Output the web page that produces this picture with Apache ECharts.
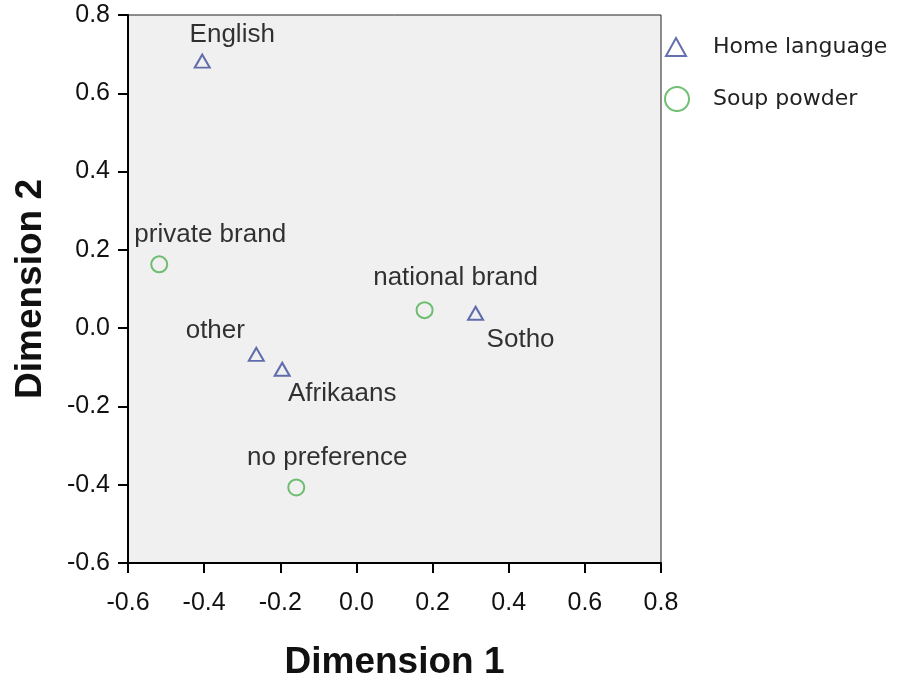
<!DOCTYPE html>
<html><head><meta charset="utf-8">
<script src="https://cdn.jsdelivr.net/npm/echarts@6/dist/echarts.min.js"></script>
<style>html,body{margin:0;padding:0;background:#fff}#c{width:898px;height:681px}</style>
</head><body><div id="c"></div>
<script>
var langNames = ['English', 'other', 'Afrikaans', 'Sotho'];
var langX = [-0.405, -0.263, -0.195, 0.313];
var langY = [0.682, -0.067, -0.105, 0.038];
var soupNames = ['private brand', 'national brand', 'no preference'];
var soupX = [-0.518, 0.179, -0.158];
var soupY = [0.163, 0.046, -0.407];
var xTicks = [-0.6, -0.4, -0.2, 0.0, 0.2, 0.4, 0.6, 0.8];
var yTicks = [-0.6, -0.4, -0.2, 0.0, 0.2, 0.4, 0.6, 0.8];

var labelOffsets = {
  'English': [30, -26], 'other': [-41, -24], 'Afrikaans': [60, 25], 'Sotho': [45, 27],
  'private brand': [51, -30], 'national brand': [31, -32], 'no preference': [31, -30]
};
var FONT = 'Liberation Sans, Arial, sans-serif';
function pts(names, xs, ys) {
  return names.map(function (n, i) {
    return { name: n, value: [xs[i], ys[i]],
      label: { show: true, position: 'inside', offset: labelOffsets[n], formatter: n,
        color: '#000', fontSize: 26, fontFamily: FONT } };
  });
}
function fmt(v) { return (Math.abs(v) < 1e-9 ? 0 : v).toFixed(1); }
var chart = echarts.init(document.getElementById('c'), null, { renderer: 'canvas' });
chart.setOption({
  animation: false,
  backgroundColor: '#fff',
  grid: { left: 128, right: 237, top: 15, bottom: 118, outerBoundsMode: 'none', containLabel: false,
    show: true, backgroundColor: '#f0f0f0', borderColor: '#222', borderWidth: 1 },
  xAxis: {
    type: 'value', min: xTicks[0], max: xTicks[xTicks.length - 1], interval: 0.2,
    name: 'Dimension 1', nameLocation: 'middle', nameGap: 81,
    nameTextStyle: { fontSize: 37, fontWeight: 'bold', color: '#111', fontFamily: FONT },
    axisLine: { show: true, onZero: false, lineStyle: { color: '#000', width: 2 } },
    axisTick: { show: true, length: 10, lineStyle: { color: '#000', width: 2 } },
    axisLabel: { fontSize: 25, color: '#111', fontFamily: FONT, margin: 28, formatter: fmt },
    splitLine: { show: false }
  },
  yAxis: {
    type: 'value', min: yTicks[0], max: yTicks[yTicks.length - 1], interval: 0.2,
    name: 'Dimension 2', nameLocation: 'middle', nameGap: 79, nameRotate: 90,
    nameTextStyle: { fontSize: 37, fontWeight: 'bold', color: '#111', fontFamily: FONT },
    axisLine: { show: true, onZero: false, lineStyle: { color: '#000', width: 2 } },
    axisTick: { show: true, length: 10, lineStyle: { color: '#000', width: 2 } },
    axisLabel: { fontSize: 25, color: '#111', fontFamily: FONT, margin: 18, formatter: fmt },
    splitLine: { show: false }
  },
  legend: [{
    orient: 'vertical', left: 665, top: 36, padding: 0, itemWidth: 20, itemHeight: 18,
    textStyle: { fontSize: 22, color: '#222', fontFamily: 'DejaVu Sans, sans-serif', padding: [5, 0, 0, 22] },
    data: [{ name: 'Home language', icon: 'triangle', itemStyle: { color: 'transparent', borderColor: '#3d4b9c', borderWidth: 2 } }]
  }, {
    orient: 'vertical', left: 664, top: 86, padding: 0, itemWidth: 24, itemHeight: 24,
    textStyle: { fontSize: 22, color: '#222', fontFamily: 'DejaVu Sans, sans-serif', padding: [6, 0, 0, 19] },
    data: [{ name: 'Soup powder', icon: 'circle', itemStyle: { color: 'transparent', borderColor: '#4cb050', borderWidth: 2 } }]
  }],
  series: [{
    name: 'Home language', type: 'scatter', symbol: 'triangle', symbolSize: [15, 13],
    itemStyle: { color: 'rgba(0,0,0,0)', borderColor: '#3d4b9c', borderWidth: 2 },
    data: pts(langNames, langX, langY)
  }, {
    name: 'Soup powder', type: 'scatter', symbol: 'circle', symbolSize: 16,
    itemStyle: { color: 'rgba(0,0,0,0)', borderColor: '#4cb050', borderWidth: 2 },
    data: pts(soupNames, soupX, soupY)
  }]
});
</script></body></html>
